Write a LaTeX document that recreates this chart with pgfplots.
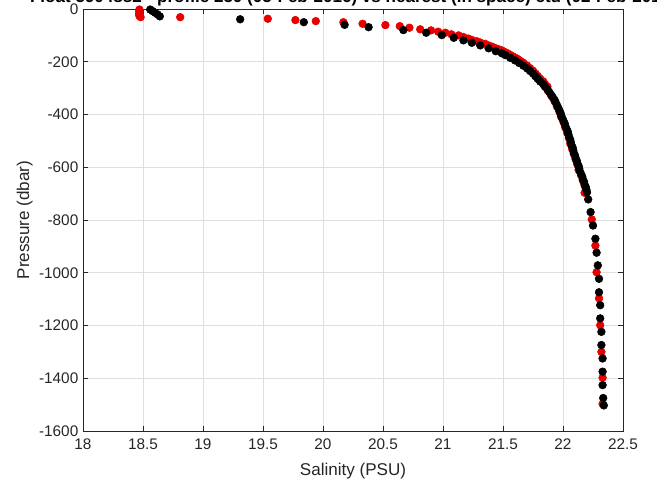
\documentclass[border=0pt]{standalone}
\usepackage{fontspec}
\setmainfont{Liberation Sans}
\usepackage{pgfplots}
\pgfplotsset{compat=1.18}
\definecolor{gridgray}{RGB}{223,223,223}
\definecolor{boxgray}{RGB}{38,38,38}
\definecolor{floatred}{RGB}{230,0,0}

% float profile (red)
\pgfplotstableread{
S P
18.47 -2
18.47 -6
18.47 -10
18.47 -14
18.47 -18
18.47 -22
18.47 -26
18.48 -31
18.81 -31
19.54 -37
19.77 -42
19.94 -46
20.17 -50
20.33 -56
20.52 -61
20.64 -65
20.72 -71
20.81 -77
20.90 -81
20.96 -86
21.02 -90
21.07 -96
21.13 -100
21.17 -106
21.21 -112
21.24 -117
21.28 -122
21.31 -127
21.35 -132
21.38 -138
21.41 -143
21.44 -149
21.465 -153
21.49 -157
21.52 -164
21.54 -169
21.56 -174
21.58 -179
21.60 -184
21.62 -189
21.635 -194
21.65 -199
21.67 -204
21.70 -214
21.725 -224
21.75 -234
21.77 -244
21.79 -254
21.81 -264
21.835 -274
21.85 -284
21.87 -294
21.875 -310
21.905 -330
21.93 -350
21.95 -370
21.97 -390
21.985 -410
22.005 -430
22.02 -450
22.035 -470
22.05 -490
22.06 -510
22.075 -530
22.09 -550
22.105 -570
22.12 -590
22.13 -610
22.15 -630
22.165 -650
22.18 -670
22.18 -697
22.24 -798
22.27 -897
22.28 -998
22.30 -1097
22.31 -1199
22.32 -1300
22.33 -1398
22.33 -1497
}\floattab

% ctd profile (black)
\pgfplotstableread{
S P
18.56 -2
18.58 -8
18.60 -14
18.62 -20
18.64 -28
19.31 -39
19.84 -50
20.18 -60
20.38 -69
20.67 -80
20.86 -90
20.99 -99
21.09 -109
21.17 -119
21.24 -128
21.31 -138
21.38 -149
21.44 -160
21.49 -168
21.52 -175
21.56 -185
21.60 -195
21.635 -205
21.67 -215
21.70 -225
21.725 -235
21.75 -245
21.77 -255
21.79 -265
21.81 -275
21.835 -285
21.85 -295
21.87 -305
21.885 -315
21.90 -325
21.915 -335
21.93 -345
21.94 -355
21.95 -365
21.96 -375
21.97 -385
21.98 -395
21.985 -405
21.995 -415
22.005 -425
22.015 -435
22.02 -445
22.03 -455
22.04 -465
22.045 -475
22.05 -485
22.06 -495
22.065 -505
22.07 -515
22.08 -525
22.085 -535
22.09 -545
22.10 -555
22.105 -565
22.115 -575
22.12 -585
22.13 -595
22.135 -605
22.14 -615
22.15 -625
22.16 -635
22.165 -645
22.175 -655
22.18 -665
22.19 -675
22.195 -685
22.20 -695
22.21 -722
22.23 -770
22.25 -821
22.27 -871
22.28 -924
22.29 -972
22.30 -1023
22.30 -1074
22.31 -1123
22.31 -1173
22.32 -1224
22.32 -1274
22.33 -1325
22.33 -1375
22.33 -1426
22.335 -1475
22.34 -1503
}\ctdtab

\begin{document}
\begin{tikzpicture}[x=1pt,y=1pt]
\begin{axis}[
    name=main,
    at={(0,0)}, anchor=south west,
    scale only axis,
    width=405pt, height=316.5pt,
    xmin=18, xmax=22.5,
    ymin=-1600, ymax=0,
    xtick={18,18.5,...,22.5},
    ytick={-1600,-1400,...,0},
    xticklabels={18,18.5,19,19.5,20,20.5,21,21.5,22,22.5},
    yticklabel style={/pgf/number format/.cd, 1000 sep={}, assume math mode=true},
    xticklabel style={yshift=-2.5pt},
    tick label style={font=\fontsize{11.5}{13}\selectfont, color=boxgray},
    label style={font=\fontsize{12.8}{14}\selectfont, color=boxgray},
    xlabel={Salinity (PSU)},
    ylabel={Pressure (dbar)},
    grid=major,
    major grid style={gridgray, line width=0.6pt},
    axis line style={boxgray, line width=0.6pt},
    major tick style={boxgray, line width=0.6pt},
    major tick length=3.8pt,
    tick align=inside,
    xtick pos=both, ytick pos=both,
    xlabel style={yshift=-3pt},
    ylabel style={yshift=-2pt},
    clip=false,
]
\addplot[only marks, mark=*, mark size=2.9pt, color=floatred, mark options={draw=floatred, fill=floatred}] table[x=S, y=P] {\floattab};
\addplot[only marks, mark=*, mark size=2.9pt, color=black, mark options={draw=black, fill=black}] table[x=S, y=P] {\ctdtab};
\node[anchor=base, font=\bfseries\fontsize{12.8}{14}\selectfont, inner sep=0pt] at (rel axis cs:0.5,1) [yshift=5pt] {Float 5904882 - profile 250 (05-Feb-2016) vs nearest (in space) ctd (02-Feb-2016)};
\end{axis}
\pgfresetboundingbox
\useasboundingbox (-62.25pt,-43.5pt) rectangle (430.5pt,323.25pt);
\end{tikzpicture}
\end{document}
